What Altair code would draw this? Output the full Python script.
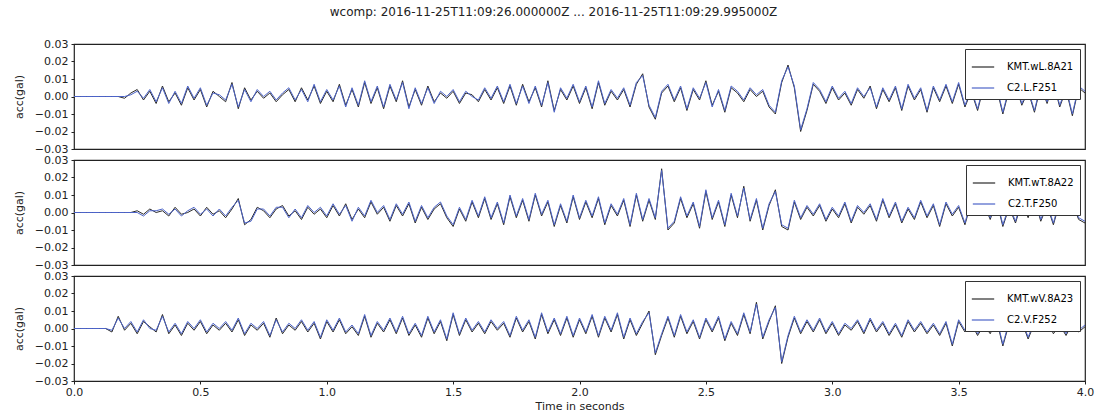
import altair as alt
import numpy as np
import pandas as pd

TITLE = "wcomp: 2016-11-25T11:09:26.000000Z ... 2016-11-25T11:09:29.995000Z"
DT = 0.025  # sampling step of the values (s)

# values in units of 0.001 gal, one row = 0.25 s
L_kmt = [0,0,0,0,0,0,0,0,-1,2, 4,-2,3,-4,6,-3,2,-5,5,-2, 4,-6,3,0,-3,8,-7,5,-2,3,
         -1,2,-3,1,4,-3,5,-2,6,-4, 3,-3,7,-5,4,-6,8,-4,5,-7, 6,-3,9,-6,4,-5,6,-3,2,-1,
         3,-4,2,1,-3,4,-2,5,-4,6, -5,7,-3,5,-6,9,-8,4,-2,6, -4,5,-7,8,-5,3,-2,4,-6,7,
         13,-6,-13,2,6,-3,5,-8,4,-2, 9,-5,3,-9,5,2,-3,4,0,3, -6,-10,8,18,5,-20,-8,7,3,-4,
         5,-2,2,-5,4,-1,6,-7,4,-3, 5,-8,6,-2,4,-9,5,-3,6,-4, 7,-6,3,-8,6,-2,5,-10,4,7,
         -5,3,-9,6,-4,8,-6,4,-11,5, 2]
L_c2 = [0,0,0,0,0,0,0,0,0,1, 3,-1,4,-3,5,-4,3,-4,6,-1, 5,-5,2,1,-2,7,-6,4,-3,4,
        0,3,-2,2,5,-2,4,-3,7,-3, 4,-2,6,-6,5,-5,9,-3,6,-6, 7,-2,8,-7,5,-4,5,-4,3,0,
        4,-3,3,0,-2,5,-1,6,-3,7, -4,6,-4,6,-5,8,-9,5,-1,7, -3,6,-6,9,-4,4,-1,5,-5,8,
        12,-5,-12,3,7,-2,6,-7,5,-1, 8,-6,4,-8,6,3,-2,5,1,4, -5,-9,9,17,6,-19,-7,8,4,-3,
        6,-1,3,-4,5,0,5,-6,5,-2, 6,-7,7,-1,5,-8,6,-2,7,-3, 8,-5,4,-7,7,-1,6,-9,5,8,
        -4,4,-8,7,-3,9,-5,5,-10,6, 3]
T_kmt = [0,0,0,0,0,0,0,0,0,0, 1,-1,2,0,1,-2,3,-1,0,2, -2,3,-1,1,-3,2,8,-7,-4,3,
         1,-3,2,4,-2,1,-4,3,-1,2, -3,4,-2,5,-4,2,-3,6,-1,3, -5,4,-2,5,-6,3,-4,2,5,-3,
         -8,2,-5,6,-3,8,-4,5,-7,9, -3,7,-5,10,-2,6,-8,4,-6,9, -4,6,-3,8,-7,4,-2,7,-8,10,
         -5,7,-4,25,-10,-6,8,-3,5,-9, 12,-4,6,-8,10,-3,15,-5,7,-10, 4,13,-8,-10,6,-4,3,-2,4,-5,
         2,-3,5,-6,3,-1,4,-5,7,-3, 5,-6,2,-4,6,-3,4,-8,5,-2, 3,-7,6,-2,5,-4,7,-8,3,-6,
         6,-3,8,-5,4,-7,6,-2,5,-4, -6]
T_c2 = [0,0,0,0,0,0,0,0,0,0, 0,-2,1,1,2,-1,2,-2,1,3, -1,2,-2,2,-2,3,7,-6,-5,2,
        2,-2,3,3,-3,2,-3,4,0,3, -2,5,-1,4,-5,3,-2,7,0,4, -4,5,-1,6,-5,4,-3,3,6,-2,
        -7,3,-4,7,-2,9,-3,6,-6,10, -2,8,-4,11,-1,7,-7,5,-5,10, -3,7,-2,9,-6,5,-1,8,-7,11,
        -4,8,-3,24,-9,-5,9,-2,6,-8, 13,-3,7,-7,11,-2,14,-4,8,-9, 5,12,-7,-9,7,-3,4,-1,5,-4,
        3,-2,6,-5,4,0,5,-4,8,-2, 6,-5,3,-3,7,-2,5,-7,6,-1, 4,-6,7,-1,6,-3,8,-7,4,-5,
        7,-2,9,-4,5,-6,7,-1,6,-3, -5]
V_kmt = [0,0,0,0,0,0,-2,7,-1,3, -3,4,1,-2,8,-3,2,-4,3,-1, 4,-3,2,-1,3,-2,5,-4,2,-1,
         3,-5,6,-3,2,-1,4,-2,3,-6, 4,-2,5,-3,1,-4,7,-5,3,-2, 5,-3,6,-4,2,-5,6,-3,4,-7,
         8,-4,5,-2,3,-3,4,-1,3,-5, 6,-2,4,-6,8,-3,5,-4,6,-5, 5,-3,7,-5,6,-2,8,-6,5,-4,
         3,10,-15,-4,6,-5,7,-3,4,-6, 5,-2,6,-7,3,-4,8,-3,15,-6, 4,13,-20,-5,6,-3,4,-2,5,-3,
         3,-4,2,-1,4,-3,5,-2,3,-4, 2,-5,4,-2,3,-3,2,-4,3,-10, 4,-2,3,-4,2,-3,5,-10,3,-2,
         4,-6,3,-2,5,-3,2,-4,3,-2, 1]
V_c2 = [0,0,0,0,0,0,-1,6,0,4, -2,5,0,-1,7,-2,3,-3,4,0, 5,-2,3,0,4,-1,6,-3,3,0,
        4,-4,5,-2,3,0,5,-1,4,-5, 5,-1,6,-2,2,-3,8,-4,4,-1, 6,-2,7,-3,3,-4,7,-2,5,-6,
        9,-3,6,-1,4,-2,5,0,4,-4, 7,-1,5,-5,9,-2,6,-3,7,-4, 6,-2,8,-4,7,-1,9,-5,6,-3,
        4,9,-14,-3,7,-4,8,-2,5,-5, 6,-1,7,-6,4,-3,9,-2,14,-5, 5,12,-19,-4,7,-2,5,-1,6,-2,
        4,-3,3,0,5,-2,6,-1,4,-3, 3,-4,5,-1,4,-2,3,-3,4,-9, 5,-1,4,-3,3,-2,6,-9,4,-1,
        5,-5,4,-1,6,-2,3,-3,4,-1, 2]

PANELS = [
    ("KMT.wL.8A21", L_kmt, "C2.L.F251", L_c2),
    ("KMT.wT.8A22", T_kmt, "C2.T.F250", T_c2),
    ("KMT.wV.8A23", V_kmt, "C2.V.F252", V_c2),
]
X_TICKS = [0.0, 0.5, 1.0, 1.5, 2.0, 2.5, 3.0, 3.5, 4.0]
Y_TICKS = [-0.03, -0.02, -0.01, 0.0, 0.01, 0.02, 0.03]

W, H = 1011, 105


def frame(name, vals):
    return pd.DataFrame({"t": np.arange(len(vals)) * DT,
                         "v": np.array(vals) / 1000.0,
                         "s": name})


panels = []
for i, (n1, v1, n2, v2) in enumerate(PANELS):
    df = pd.concat([frame(n1, v1), frame(n2, v2)], ignore_index=True)
    last = i == len(PANELS) - 1
    if last:
        xaxis = alt.Axis(values=X_TICKS, format=".1f", title="Time in seconds", grid=False,
                         labelFontSize=11, titleFontSize=11, titleFontWeight="normal",
                         titlePadding=3, labelPadding=2, tickSize=3, domain=False,
                         labelFlush=False)
    else:
        xaxis = None
    ch = alt.Chart(df).mark_line(strokeWidth=1).encode(
        x=alt.X("t:Q", scale=alt.Scale(domain=[0, 4], nice=False), axis=xaxis),
        y=alt.Y("v:Q", scale=alt.Scale(domain=[-0.03, 0.03], nice=False),
                axis=alt.Axis(values=Y_TICKS, format=".2f", title="acc(gal)", grid=False,
                              labelFontSize=11, titleFontSize=11, titleFontWeight="normal",
                              titlePadding=10, tickSize=3, labelPadding=3, domain=False)),
        color=alt.Color("s:N", sort=[n1, n2],
                        scale=alt.Scale(domain=[n1, n2], range=["#2a2a2a", "#4c63c8"]),
                        legend=alt.Legend(title=None, orient="top-right", offset=5,
                                          symbolType="stroke", symbolSize=500,
                                          symbolStrokeWidth=1.2, labelFontSize=10,
                                          strokeColor="#333", fillColor="white",
                                          padding=6, rowPadding=4, labelOffset=12)),
        order=alt.Order("s:N"),
    ).properties(width=W, height=H)
    panels.append(ch)

chart = alt.vconcat(*panels, spacing=11, bounds="flush").resolve_scale(
    color="independent"
).resolve_legend(color="independent").properties(
    title=alt.TitleParams(TITLE, fontSize=12, fontWeight="normal", anchor="middle",
                          offset=18, color="#222")
).configure(font="DejaVu Sans").configure_view(stroke="#222", strokeWidth=1.2).configure_axis(
    labelColor="#222", titleColor="#222", tickColor="#222"
).properties(padding={"left": 12, "top": 6, "right": 5, "bottom": 0})

chart.save("out.html", embed_options={"renderer": "svg", "actions": False})
